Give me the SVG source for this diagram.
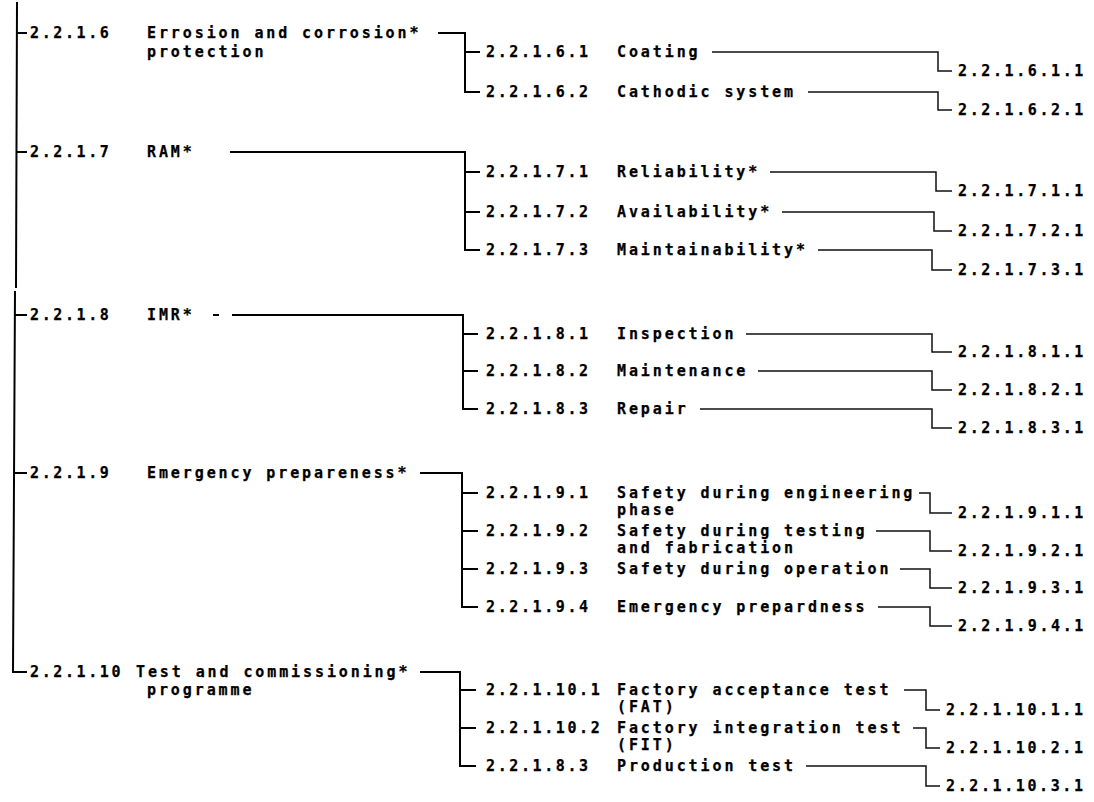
<svg xmlns="http://www.w3.org/2000/svg" width="1094" height="802" viewBox="0 0 1094 802">
<style>
text { font-family: "DejaVu Sans Mono", "Liberation Mono", monospace; font-weight: bold; font-size: 15px; fill: #000; stroke: #000; stroke-width: 0.25; }
.n { letter-spacing: 2.6px; }
.t { letter-spacing: 2.9px; }
.c { fill: none; stroke: #000; stroke-width: 2; }
.h { fill: none; stroke: #111; stroke-width: 1.5; }
</style>
<rect width="1094" height="802" fill="#fff"/>
<g id="connectors">
  <path class="c" d="M17,2 L16,288 M15,291 L13,672 H27 M16,33 H27 M16,152 H27 M15,315 H27 M14,473 H27"/>
  <path class="c" d="M438,33 H465 V92 H480 M465,52 H480"/>
  <path class="c" d="M230,152 H465 V250 H480 M465,172 H480 M465,212 H480"/>
  <path class="c" d="M213,315 H219 M232,315 H463 V409 H478 M463,334 H478 M463,371 H478"/>
  <path class="c" d="M420,473 H462 V607 H478 M462,493 H478 M462,531 H478 M462,569 H478"/>
  <path class="c" d="M420,672 H460 V766 H476 M460,690 H476 M460,728 H476"/>
  <path class="h" d="M712,52 H938 V71 H952"/>
  <path class="h" d="M808,92 H938 V110 H952"/>
  <path class="h" d="M770,172 H936 V191 H952"/>
  <path class="h" d="M782,212 H934 V231 H952"/>
  <path class="h" d="M818,250 H932 V270 H952"/>
  <path class="h" d="M746,334 H932 V352 H952"/>
  <path class="h" d="M758,371 H932 V390 H952"/>
  <path class="h" d="M700,409 H932 V428 H952"/>
  <path class="h" d="M919,493 H930 V513 H952"/>
  <path class="h" d="M876,531 H930 V551 H952"/>
  <path class="h" d="M900,569 H930 V588 H952"/>
  <path class="h" d="M878,607 H930 V626 H952"/>
  <path class="h" d="M904,690 H926 V710 H940"/>
  <path class="h" d="M913,728 H926 V748 H940"/>
  <path class="h" d="M806,766 H926 V786 H940"/>
</g>
<g id="n-2-2-1-6"><text class="n" x="30" y="38">2.2.1.6</text><text class="t" x="147" y="38">Errosion and corrosion*</text><text class="t" x="147" y="57">protection</text></g>
<g id="n-2-2-1-6-1"><text class="n" x="486" y="57">2.2.1.6.1</text><text class="t" x="617" y="57">Coating</text></g>
<g id="n-2-2-1-6-1-1"><text class="n" x="958" y="76">2.2.1.6.1.1</text></g>
<g id="n-2-2-1-6-2"><text class="n" x="486" y="97">2.2.1.6.2</text><text class="t" x="617" y="97">Cathodic system</text></g>
<g id="n-2-2-1-6-2-1"><text class="n" x="958" y="115">2.2.1.6.2.1</text></g>

<g id="n-2-2-1-7"><text class="n" x="30" y="157">2.2.1.7</text><text class="t" x="147" y="157">RAM*</text></g>
<g id="n-2-2-1-7-1"><text class="n" x="486" y="177">2.2.1.7.1</text><text class="t" x="617" y="177">Reliability*</text></g>
<g id="n-2-2-1-7-1-1"><text class="n" x="958" y="196">2.2.1.7.1.1</text></g>
<g id="n-2-2-1-7-2"><text class="n" x="486" y="217">2.2.1.7.2</text><text class="t" x="617" y="217">Availability*</text></g>
<g id="n-2-2-1-7-2-1"><text class="n" x="958" y="236">2.2.1.7.2.1</text></g>
<g id="n-2-2-1-7-3"><text class="n" x="486" y="255">2.2.1.7.3</text><text class="t" x="617" y="255">Maintainability*</text></g>
<g id="n-2-2-1-7-3-1"><text class="n" x="958" y="275">2.2.1.7.3.1</text></g>

<g id="n-2-2-1-8"><text class="n" x="30" y="320">2.2.1.8</text><text class="t" x="147" y="320">IMR*</text></g>
<g id="n-2-2-1-8-1"><text class="n" x="486" y="339">2.2.1.8.1</text><text class="t" x="617" y="339">Inspection</text></g>
<g id="n-2-2-1-8-1-1"><text class="n" x="958" y="357">2.2.1.8.1.1</text></g>
<g id="n-2-2-1-8-2"><text class="n" x="486" y="376">2.2.1.8.2</text><text class="t" x="617" y="376">Maintenance</text></g>
<g id="n-2-2-1-8-2-1"><text class="n" x="958" y="395">2.2.1.8.2.1</text></g>
<g id="n-2-2-1-8-3"><text class="n" x="486" y="414">2.2.1.8.3</text><text class="t" x="617" y="414">Repair</text></g>
<g id="n-2-2-1-8-3-1"><text class="n" x="958" y="433">2.2.1.8.3.1</text></g>

<g id="n-2-2-1-9"><text class="n" x="30" y="478">2.2.1.9</text><text class="t" x="147" y="478">Emergency prepareness*</text></g>
<g id="n-2-2-1-9-1"><text class="n" x="486" y="498">2.2.1.9.1</text><text class="t" x="617" y="498">Safety during engineering</text><text class="t" x="617" y="515">phase</text></g>
<g id="n-2-2-1-9-1-1"><text class="n" x="958" y="518">2.2.1.9.1.1</text></g>
<g id="n-2-2-1-9-2"><text class="n" x="486" y="536">2.2.1.9.2</text><text class="t" x="617" y="536">Safety during testing</text><text class="t" x="617" y="553">and fabrication</text></g>
<g id="n-2-2-1-9-2-1"><text class="n" x="958" y="556">2.2.1.9.2.1</text></g>
<g id="n-2-2-1-9-3"><text class="n" x="486" y="574">2.2.1.9.3</text><text class="t" x="617" y="574">Safety during operation</text></g>
<g id="n-2-2-1-9-3-1"><text class="n" x="958" y="593">2.2.1.9.3.1</text></g>
<g id="n-2-2-1-9-4"><text class="n" x="486" y="612">2.2.1.9.4</text><text class="t" x="617" y="612">Emergency prepardness</text></g>
<g id="n-2-2-1-9-4-1"><text class="n" x="958" y="631">2.2.1.9.4.1</text></g>

<g id="n-2-2-1-10"><text class="n" x="30" y="677">2.2.1.10</text><text class="t" x="136" y="677">Test and commissioning*</text><text class="t" x="147" y="695">programme</text></g>
<g id="n-2-2-1-10-1"><text class="n" x="486" y="695">2.2.1.10.1</text><text class="t" x="617" y="695">Factory acceptance test</text><text class="t" x="617" y="712">(FAT)</text></g>
<g id="n-2-2-1-10-1-1"><text class="n" x="946" y="715">2.2.1.10.1.1</text></g>
<g id="n-2-2-1-10-2"><text class="n" x="486" y="733">2.2.1.10.2</text><text class="t" x="617" y="733">Factory integration test</text><text class="t" x="617" y="750">(FIT)</text></g>
<g id="n-2-2-1-10-2-1"><text class="n" x="946" y="753">2.2.1.10.2.1</text></g>
<g id="n-2-2-1-10-3"><text class="n" x="486" y="771">2.2.1.8.3</text><text class="t" x="617" y="771">Production test</text></g>
<g id="n-2-2-1-10-3-1"><text class="n" x="946" y="791">2.2.1.10.3.1</text></g>
</svg>
